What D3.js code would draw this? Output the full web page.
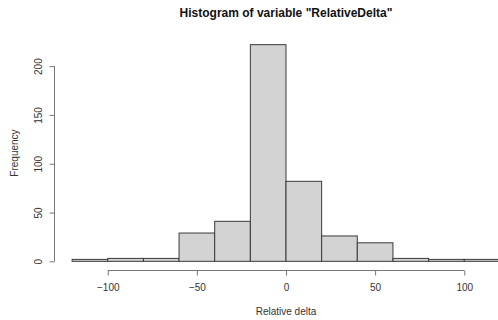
<!DOCTYPE html>
<html>
<head>
<meta charset="utf-8">
<script src="https://cdn.jsdelivr.net/npm/d3@7"></script>
<style>
  body { margin: 0; background: #fff; }
  text { font-family: "Liberation Sans", Arial, sans-serif; }
</style>
</head>
<body>
<div id="chart"></div>
<script>
// histogram bins (breaks every 20) and counts
var breaks = [-120, -100, -80, -60, -40, -20, 0, 20, 40, 60, 80, 100, 120];
var counts = [2, 3, 3, 29, 41, 222, 82, 26, 19, 3, 2, 2];
var xTicks = [-100, -50, 0, 50, 100];
var yTicks = [0, 50, 100, 150, 200];

var width = 498, height = 320;
var plot = {left: 55, right: 517, top: 36, bottom: 270};

var bins = counts.map(function(c, i) {
    return {x0: breaks[i], x1: breaks[i + 1], n: c};
});

var svg = d3.select("#chart").append("svg")
    .attr("width", width)
    .attr("height", height);

// R style: 4% padding on both ends
var xr = breaks[breaks.length - 1] - breaks[0];
var x = d3.scaleLinear()
    .domain([breaks[0] - 0.04 * xr, breaks[breaks.length - 1] + 0.04 * xr])
    .range([plot.left, plot.right]);

var yMax = d3.max(counts);
var y = d3.scaleLinear()
    .domain([-0.04 * yMax, 1.04 * yMax])
    .range([plot.bottom, plot.top]);

svg.selectAll("rect.bar")
    .data(bins)
    .enter().append("rect")
    .attr("class", "bar")
    .attr("x", function(d) { return x(d.x0); })
    .attr("y", function(d) { return y(d.n); })
    .attr("width", function(d) { return x(d.x1) - x(d.x0); })
    .attr("height", function(d) { return y(0) - y(d.n); })
    .attr("fill", "#d3d3d3")
    .attr("stroke", "#3a3a3a")
    .attr("stroke-width", 1);

// x axis
var xaxis = svg.append("g")
    .attr("transform", "translate(0," + (plot.bottom + 0.5) + ")")
    .call(d3.axisBottom(x)
        .tickValues(xTicks)
        .tickSize(5)
        .tickPadding(8)
        .tickFormat(d3.format("d")));

// y axis
var yaxis = svg.append("g")
    .attr("transform", "translate(" + (plot.left - 0.5) + ",0)")
    .call(d3.axisLeft(y)
        .tickValues(yTicks)
        .tickSize(5)
        .tickFormat(d3.format("d")));

// R draws the axis line only between first and last tick
xaxis.select(".domain")
    .attr("d", "M" + x(xTicks[0]) + ",0H" + x(xTicks[xTicks.length - 1]));
yaxis.select(".domain")
    .attr("d", "M0," + y(yTicks[0]) + "V" + y(yTicks[yTicks.length - 1]));

[xaxis, yaxis].forEach(function(g) {
    g.selectAll(".domain, .tick line").attr("stroke", "#777");
    g.selectAll("text")
        .attr("fill", "#333")
        .style("font-size", "10px")
        .style("font-family", '"Liberation Sans", Arial, sans-serif');
});

// rotated y labels like R's las=0
yaxis.selectAll(".tick text")
    .attr("x", null)
    .attr("dy", null)
    .attr("text-anchor", "middle")
    .attr("transform", "translate(-13,0) rotate(-90)");

svg.append("text")
    .attr("x", x(0))
    .attr("y", 17)
    .attr("text-anchor", "middle")
    .style("font-size", "12px")
    .style("font-weight", "bold")
    .attr("fill", "#111")
    .text('Histogram of variable "RelativeDelta"');

svg.append("text")
    .attr("x", x(0))
    .attr("y", 315)
    .attr("text-anchor", "middle")
    .style("font-size", "10px")
    .attr("fill", "#333")
    .text("Relative delta");

svg.append("text")
    .attr("transform", "translate(18," + ((plot.top + plot.bottom) / 2) + ") rotate(-90)")
    .attr("text-anchor", "middle")
    .style("font-size", "10px")
    .attr("fill", "#333")
    .text("Frequency");
</script>
</body>
</html>
